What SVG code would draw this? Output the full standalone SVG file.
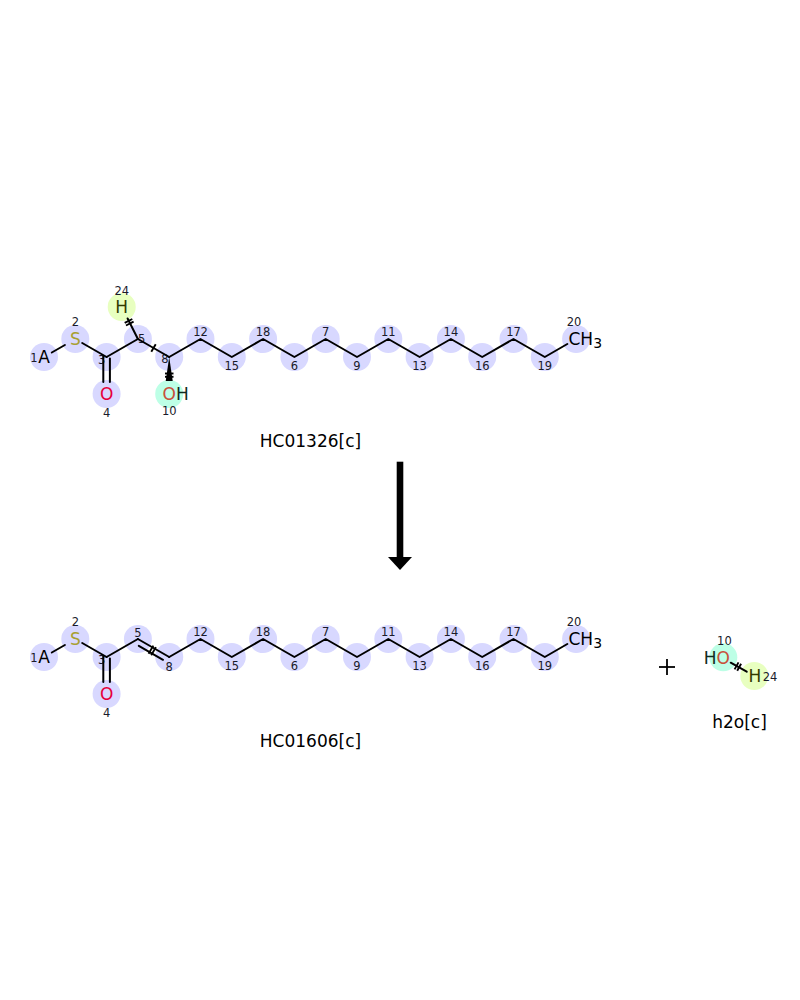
<svg xmlns="http://www.w3.org/2000/svg" width="800" height="1000" viewBox="0 0 800 1000">
<style>
text{font-family:"DejaVu Sans","Liberation Sans",sans-serif}
.hl{fill:#D8D8FF}
.hlH{fill:#E8FFC0}
.hlO{fill:#BDFFE6}
.num{font-size:11.5px;fill:#1a1a2a;text-anchor:middle}
.at{font-size:17px;text-anchor:middle}
.sub{font-size:14px}
.S{fill:#A8A032}
.Ored{fill:#E6003A}
.Ooh{fill:#C8503A}
.Hy{fill:#333A00}
.Hd{fill:#102a20}
.blk{fill:#000}
.lbl{font-size:17px;fill:#000;text-anchor:middle}
.bond{stroke:#000;stroke-width:2;fill:none;stroke-linecap:round;stroke-linejoin:round}
.tick{stroke:#000;stroke-width:1.9;fill:none}
</style>
<rect width="800" height="1000" fill="#fff"/>

<!-- ===== Reactant HC01326[c] ===== -->
<g id="r1">
<g id="r1-A1"><circle class="hl" cx="44" cy="357" r="14"/><text class="at blk" x="44" y="363">A</text><text class="num" x="34" y="361.5">1</text></g>
<g id="r1-S2"><circle class="hl" cx="75.3" cy="339" r="14"/><text class="at S" x="75.3" y="345">S</text><text class="num" x="75.3" y="326">2</text></g>
<g id="r1-C3"><circle class="hl" cx="106.6" cy="357" r="14"/><text class="num" x="101.7" y="364">3</text></g>
<g id="r1-O4"><circle class="hl" cx="106.6" cy="394" r="14"/><text class="at Ored" x="106.6" y="400">O</text><text class="num" x="106.6" y="416.5">4</text></g>
<g id="r1-C5"><circle class="hl" cx="137.9" cy="339" r="14"/><text class="num" x="141.7" y="343">5</text></g>
<g id="r1-H24"><circle class="hlH" cx="121.7" cy="307" r="14"/><text class="at Hy" x="121.7" y="313">H</text><text class="num" x="121.7" y="295">24</text></g>
<g id="r1-C8"><circle class="hl" cx="169.2" cy="357" r="14"/><text class="num" x="165" y="362.5">8</text></g>
<g id="r1-O10"><circle class="hlO" cx="169.2" cy="394" r="14"/><text class="at Ooh" x="169.2" y="400">O</text><text class="at Hd" x="176" y="400" style="text-anchor:start">H</text><text class="num" x="169.2" y="415">10</text></g>
<g id="r1-C12"><circle class="hl" cx="200.5" cy="339" r="14"/><text class="num" x="200.5" y="336">12</text></g>
<g id="r1-C15"><circle class="hl" cx="231.8" cy="357" r="14"/><text class="num" x="231.8" y="370">15</text></g>
<g id="r1-C18"><circle class="hl" cx="263.1" cy="339" r="14"/><text class="num" x="263.1" y="336">18</text></g>
<g id="r1-C6"><circle class="hl" cx="294.4" cy="357" r="14"/><text class="num" x="294.4" y="370">6</text></g>
<g id="r1-C7"><circle class="hl" cx="325.7" cy="339" r="14"/><text class="num" x="325.7" y="336">7</text></g>
<g id="r1-C9"><circle class="hl" cx="357" cy="357" r="14"/><text class="num" x="357" y="370">9</text></g>
<g id="r1-C11"><circle class="hl" cx="388.3" cy="339" r="14"/><text class="num" x="388.3" y="336">11</text></g>
<g id="r1-C13"><circle class="hl" cx="419.6" cy="357" r="14"/><text class="num" x="419.6" y="370">13</text></g>
<g id="r1-C14"><circle class="hl" cx="450.9" cy="339" r="14"/><text class="num" x="450.9" y="336">14</text></g>
<g id="r1-C16"><circle class="hl" cx="482.2" cy="357" r="14"/><text class="num" x="482.2" y="370">16</text></g>
<g id="r1-C17"><circle class="hl" cx="513.5" cy="339" r="14"/><text class="num" x="513.5" y="336">17</text></g>
<g id="r1-C19"><circle class="hl" cx="544.8" cy="357" r="14"/><text class="num" x="544.8" y="370">19</text></g>
<g id="r1-C20"><circle class="hl" cx="576.1" cy="339" r="14"/><text class="at blk" x="568.5" y="345" style="text-anchor:start">CH<tspan class="sub" dy="2.5">3</tspan></text><text class="num" x="574" y="325.7">20</text></g>
<text class="lbl" x="310.5" y="446.5">HC01326[c]</text>
</g>

<!-- ===== Product HC01606[c] ===== -->
<g id="p1">
<g id="p1-A1"><circle class="hl" cx="44" cy="657" r="14"/><text class="at blk" x="44" y="663">A</text><text class="num" x="34" y="661.5">1</text></g>
<g id="p1-S2"><circle class="hl" cx="75.3" cy="639" r="14"/><text class="at S" x="75.3" y="645">S</text><text class="num" x="75.3" y="626">2</text></g>
<g id="p1-C3"><circle class="hl" cx="106.6" cy="657" r="14"/><text class="num" x="101.7" y="664">3</text></g>
<g id="p1-O4"><circle class="hl" cx="106.6" cy="694" r="14"/><text class="at Ored" x="106.6" y="700">O</text><text class="num" x="106.6" y="716.5">4</text></g>
<g id="p1-C5"><circle class="hl" cx="137.9" cy="639" r="14"/><text class="num" x="137.9" y="636.5">5</text></g>
<g id="p1-C8"><circle class="hl" cx="169.2" cy="657" r="14"/><text class="num" x="169.2" y="670.5">8</text></g>
<g id="p1-C12"><circle class="hl" cx="200.5" cy="639" r="14"/><text class="num" x="200.5" y="636">12</text></g>
<g id="p1-C15"><circle class="hl" cx="231.8" cy="657" r="14"/><text class="num" x="231.8" y="670">15</text></g>
<g id="p1-C18"><circle class="hl" cx="263.1" cy="639" r="14"/><text class="num" x="263.1" y="636">18</text></g>
<g id="p1-C6"><circle class="hl" cx="294.4" cy="657" r="14"/><text class="num" x="294.4" y="670">6</text></g>
<g id="p1-C7"><circle class="hl" cx="325.7" cy="639" r="14"/><text class="num" x="325.7" y="636">7</text></g>
<g id="p1-C9"><circle class="hl" cx="357" cy="657" r="14"/><text class="num" x="357" y="670">9</text></g>
<g id="p1-C11"><circle class="hl" cx="388.3" cy="639" r="14"/><text class="num" x="388.3" y="636">11</text></g>
<g id="p1-C13"><circle class="hl" cx="419.6" cy="657" r="14"/><text class="num" x="419.6" y="670">13</text></g>
<g id="p1-C14"><circle class="hl" cx="450.9" cy="639" r="14"/><text class="num" x="450.9" y="636">14</text></g>
<g id="p1-C16"><circle class="hl" cx="482.2" cy="657" r="14"/><text class="num" x="482.2" y="670">16</text></g>
<g id="p1-C17"><circle class="hl" cx="513.5" cy="639" r="14"/><text class="num" x="513.5" y="636">17</text></g>
<g id="p1-C19"><circle class="hl" cx="544.8" cy="657" r="14"/><text class="num" x="544.8" y="670">19</text></g>
<g id="p1-C20"><circle class="hl" cx="576.1" cy="639" r="14"/><text class="at blk" x="568.5" y="645" style="text-anchor:start">CH<tspan class="sub" dy="2.5">3</tspan></text><text class="num" x="574" y="625.7">20</text></g>
<text class="lbl" x="310.5" y="746.5">HC01606[c]</text>
</g>

<!-- ===== Product h2o[c] ===== -->
<g id="p2">
<g id="p2-O10"><circle class="hlO" cx="723.3" cy="657.3" r="14"/><text class="at Ooh" x="723.3" y="663.5">O</text><text class="at Hd" x="716.5" y="663.5" style="text-anchor:end">H</text><text class="num" x="724.4" y="645">10</text></g>
<g id="p2-H24"><circle class="hlH" cx="754.3" cy="676" r="14"/><text class="at Hy" x="755" y="682">H</text><text class="num" x="770" y="681">24</text></g>
<text class="lbl" x="739.5" y="728">h2o[c]</text>
</g>

<!-- ===== Connectors (bonds, arrow, plus) ===== -->
<g id="connectors">
<!-- reactant bonds -->
<line class="bond" x1="51.8" y1="352.5" x2="64.9" y2="345"/>
<line class="bond" x1="82.2" y1="343" x2="106.6" y2="357"/>
<line class="bond" x1="103.3" y1="356" x2="103.3" y2="382"/>
<line class="bond" x1="109.9" y1="358.5" x2="109.9" y2="382"/>
<line class="bond" x1="106.6" y1="357" x2="137.9" y2="339"/>
<line class="bond" x1="137.9" y1="339" x2="169.2" y2="357"/>
<line class="tick" x1="151.3" y1="351.8" x2="155.7" y2="344.2"/>
<line class="bond" x1="137.9" y1="339" x2="127.6" y2="318.5"/>
<line class="tick" x1="126" y1="325.5" x2="133.6" y2="321.7"/>
<line class="tick" x1="124.7" y1="322.8" x2="132.3" y2="319"/>
<polygon points="169.2,357 165.7,381 172.7,381" fill="#000"/>
<line class="tick" x1="165" y1="373.5" x2="173.5" y2="373.5"/>
<line class="tick" x1="165" y1="376.8" x2="173.5" y2="376.8"/>
<polyline class="bond" points="169.2,357 200.5,339 231.8,357 263.1,339 294.4,357 325.7,339 357,357 388.3,339 419.6,357 450.9,339 482.2,357 513.5,339 544.8,357 567.3,344"/>

<!-- HC01606 bonds -->
<line class="bond" x1="51.8" y1="652.5" x2="64.9" y2="645"/>
<line class="bond" x1="82.2" y1="643" x2="106.6" y2="657"/>
<line class="bond" x1="103.3" y1="656" x2="103.3" y2="682"/>
<line class="bond" x1="109.9" y1="658.5" x2="109.9" y2="682"/>
<line class="bond" x1="106.6" y1="657" x2="137.9" y2="639"/>
<line class="bond" x1="137.9" y1="639" x2="169.2" y2="657"/>
<line class="bond" x1="138.8" y1="645.8" x2="163" y2="659.8"/>
<line class="tick" x1="153.3" y1="645.6" x2="148.6" y2="653.8"/>
<line class="tick" x1="155.9" y1="647.1" x2="151.2" y2="655.3"/>
<polyline class="bond" points="169.2,657 200.5,639 231.8,657 263.1,639 294.4,657 325.7,639 357,657 388.3,639 419.6,657 450.9,639 482.2,657 513.5,639 544.8,657 567.3,644"/>

<!-- water bond -->
<line class="bond" x1="730.7" y1="662.7" x2="746.7" y2="671.7"/>
<line class="tick" x1="738.5" y1="662.4" x2="734.6" y2="669.4"/>
<line class="tick" x1="741.1" y1="663.8" x2="737.2" y2="670.8"/>

<!-- reaction arrow -->
<rect x="396.7" y="461.7" width="6.6" height="96" fill="#000"/>
<polygon points="388,557 412,557 400,570" fill="#000"/>

<!-- plus -->
<line x1="659" y1="667" x2="675" y2="667" stroke="#000" stroke-width="1.8"/>
<line x1="667" y1="659" x2="667" y2="675" stroke="#000" stroke-width="1.8"/>
</g>
</svg>
